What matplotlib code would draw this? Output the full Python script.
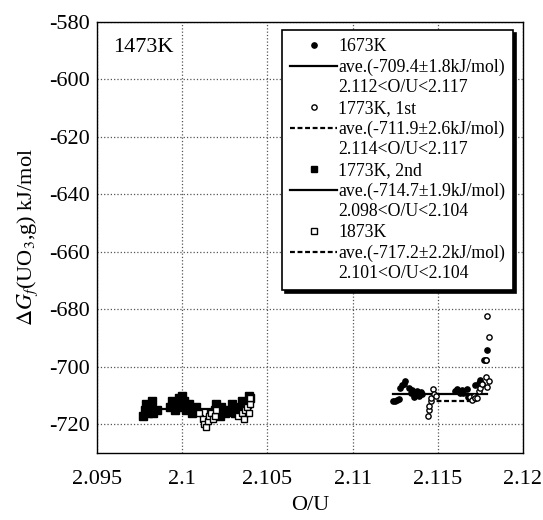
import matplotlib
matplotlib.use("Agg")
import matplotlib.pyplot as plt
from matplotlib.lines import Line2D

plt.rcParams['font.family'] = ['Liberation Serif', 'DejaVu Serif']
plt.rcParams['mathtext.fontset'] = 'stix'
plt.rcParams['axes.unicode_minus'] = False

# 1673K (points pleins)
x_1673 = [2.1124, 2.1125, 2.1126, 2.1127, 2.1128, 2.1129, 2.1130, 2.1131, 2.1133, 2.1134,
          2.1135, 2.1136, 2.1137, 2.1138, 2.1139, 2.1140, 2.1141, 2.1160, 2.1161, 2.1163,
          2.1164, 2.1165, 2.1167, 2.1168, 2.1172, 2.1174, 2.1175, 2.1176, 2.1177, 2.1178, 2.1179]
y_1673 = [-712.0, -711.8, -711.5, -711.3, -707.5, -706.5, -706.0, -705.0, -707.5, -709.0,
          -708.0, -710.5, -709.5, -708.5, -710.0, -708.8, -709.5, -708.5, -707.8, -709.0,
          -708.0, -709.2, -707.6, -710.5, -706.5, -705.5, -704.5, -706.0, -697.5, -697.6, -694.0]

# 1773K, 1st (cercles vides)
x_1773a = [2.1144, 2.1145, 2.1145, 2.1146, 2.1146, 2.1147, 2.1148, 2.1149, 2.1169, 2.1170,
           2.1171, 2.1172, 2.1173, 2.1174, 2.1175, 2.1176, 2.1178, 2.1179, 2.1180, 2.1178,
           2.1180, 2.1179]
y_1773a = [-717.0, -715.0, -713.5, -712.0, -711.0, -707.6, -709.5, -710.0, -710.5, -711.5,
           -710.0, -711.0, -710.8, -708.5, -707.5, -706.0, -703.5, -707.0, -705.0, -697.6,
           -689.7, -682.4]

# 1773K, 2nd (carres pleins)
x_1773b = [2.0977, 2.0978, 2.0979, 2.0980, 2.0981, 2.0982, 2.0983, 2.0985, 2.0993, 2.0994,
           2.0996, 2.0997, 2.0998, 2.0999, 2.1000, 2.1001, 2.1002, 2.1004, 2.1006, 2.1008,
           2.1017, 2.1019, 2.1020, 2.1022, 2.1023, 2.1025, 2.1027, 2.1029, 2.1031, 2.1033,
           2.1035, 2.1037, 2.1038, 2.1039, 2.1040]
y_1773b = [-717, -715, -713, -716, -714, -712, -716, -715, -714, -712,
           -715, -713, -711, -714, -710, -712, -715, -713, -716, -714,
           -716, -715, -713, -717, -714, -716, -715, -713, -716, -714,
           -712, -715, -713, -710, -711]

# 1873K (carres vides)
x_1873 = [2.1010, 2.1012, 2.1013, 2.1014, 2.1015, 2.1016, 2.1017, 2.1018, 2.1019, 2.1020,
          2.1033, 2.1035, 2.1036, 2.1037, 2.1038, 2.1039, 2.1040, 2.1040]
y_1873 = [-716, -718, -720, -721, -719, -717, -716, -718, -717, -715,
          -717, -716, -718, -715, -714, -716, -713, -711]

# moyennes et plages O/U
ave_vals = [-709.4, -711.9, -714.7, -717.2]
ave_ranges = [(2.1124, 2.1179), (2.1145, 2.1173), (2.0977, 2.1040), (2.1010, 2.1040)]
ave_dashed = [False, True, False, True]

labels = ["1673K", "ave.(-709.4\u00b11.8kJ/mol)", "2.112<O/U<2.117",
          "1773K, 1st", "ave.(-711.9\u00b12.6kJ/mol)", "2.114<O/U<2.117",
          "1773K, 2nd", "ave.(-714.7\u00b11.9kJ/mol)", "2.098<O/U<2.104",
          "1873K", "ave.(-717.2\u00b12.2kJ/mol)", "2.101<O/U<2.104"]

tirets = (0, (2.2, 1.2))

fig = plt.figure(figsize=(5.43, 5.2), dpi=100)
ax = fig.add_axes([97/543, 1-453/520, 426/543, 431/520])

ax.plot(x_1673, y_1673, 'o', color='black', ms=3.8, zorder=3)
ax.plot(x_1773a, y_1773a, 'o', mfc='white', mec='black', mew=1.0, ms=3.8, zorder=3)
ax.plot(x_1773b, y_1773b, 's', color='black', ms=6, zorder=3)
ax.plot(x_1873, y_1873, 's', mfc='white', mec='black', mew=1.0, ms=5.0, zorder=3)

for val, (x0, x1), d in zip(ave_vals, ave_ranges, ave_dashed):
    ax.plot([x0, x1], [val, val], color='black', lw=1.6,
            linestyle=tirets if d else '-', zorder=2)

ax.set_xlim(2.095, 2.12)
ax.set_ylim(-730, -580)
ax.set_xticks([2.095, 2.1, 2.105, 2.11, 2.115, 2.12])
ax.set_xticklabels(["2.095", "2.1", "2.105", "2.11", "2.115", "2.12"])
ax.set_yticks(range(-720, -579, 20))
ax.tick_params(length=0, labelsize=16, pad=5)
ax.tick_params(axis='x', pad=12)
ax.grid(True, linestyle=':', color='#555555', lw=0.9)
for s in ax.spines.values():
    s.set_linewidth(1.0)

ax.set_xlabel("O/U", fontsize=16, labelpad=5)
ax.set_ylabel(r"$\Delta G_f$(UO$_3$,g) kJ/mol", fontsize=16, labelpad=7)
ax.text(0.038, 0.94, "1473K", transform=ax.transAxes, fontsize=16, va='center', ha='left')

# legende
vide = Line2D([], [], linestyle='none')
handles = [Line2D([], [], marker='o', color='black', ls='none', ms=3.8),
           Line2D([], [], color='black', ls='-', lw=1.6), vide,
           Line2D([], [], marker='o', mfc='white', mec='black', ls='none', ms=3.8),
           Line2D([], [], color='black', ls=tirets, lw=1.6), vide,
           Line2D([], [], marker='s', color='black', ls='none', ms=5),
           Line2D([], [], color='black', ls='-', lw=1.6), vide,
           Line2D([], [], marker='s', mfc='white', mec='black', ls='none', ms=5),
           Line2D([], [], color='black', ls=tirets, lw=1.6), vide]
leg = fig.legend(handles, labels, loc='upper right', bbox_to_anchor=(513/543, 1-30/520),
                 fontsize=12.8, frameon=True, fancybox=False, edgecolor='black',
                 handlelength=2.65, handletextpad=0.05, labelspacing=0.2,
                 borderpad=0.45, borderaxespad=0,
                 shadow={'color': 'black', 'alpha': 1.0})
leg.get_frame().set_linewidth(1.2)

fig.savefig("out.png", dpi=100)
